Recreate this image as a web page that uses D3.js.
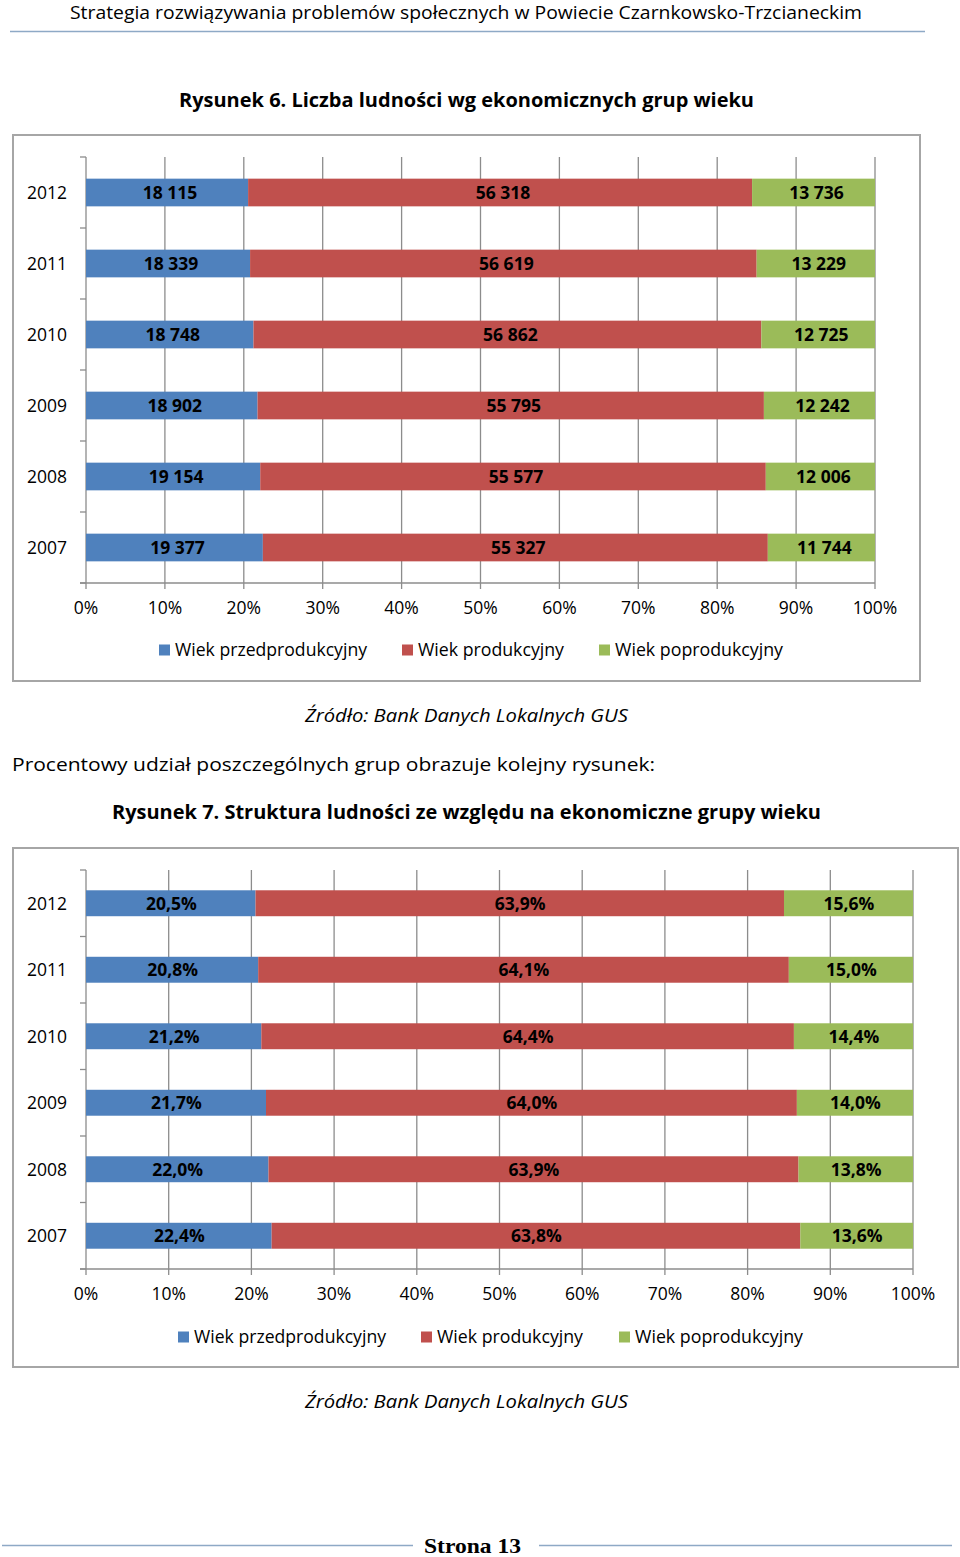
<!DOCTYPE html>
<html>
<head>
<meta charset="utf-8">
<script src="https://cdn.jsdelivr.net/npm/d3@7"></script>
<style>
  html, body { margin: 0; padding: 0; background: #fff; }
  svg { display: block; }
  text { font-family: "Open Sans", "Noto Sans", sans-serif; fill: #000; }
</style>
</head>
<body>
<script>
// ---------------- DATA ----------------
const years = ["2012", "2011", "2010", "2009", "2008", "2007"];
const seriesNames = ["Wiek przedprodukcyjny", "Wiek produkcyjny", "Wiek poprodukcyjny"];
const seriesColors = ["#4F81BD", "#C0504D", "#9BBB59"];

// Rysunek 6 – absolute numbers
const preProductive = [18115, 18339, 18748, 18902, 19154, 19377];
const productive    = [56318, 56619, 56862, 55795, 55577, 55327];
const postProductive= [13736, 13229, 12725, 12242, 12006, 11744];

// Rysunek 7 – shares (%)
const prePct  = [20.5, 20.8, 21.2, 21.7, 22.0, 22.4];
const prodPct = [63.9, 64.1, 64.4, 64.0, 63.9, 63.8];
const postPct = [15.6, 15.0, 14.4, 14.0, 13.8, 13.6];

const tickValues = [0, 0.1, 0.2, 0.3, 0.4, 0.5, 0.6, 0.7, 0.8, 0.9, 1.0];
const tickLabels = ["0%", "10%", "20%", "30%", "40%", "50%", "60%", "70%", "80%", "90%", "100%"];

// ---------------- SVG ----------------
const W = 960, H = 1557;
const svg = d3.select("body").append("svg").attr("width", W).attr("height", H);
svg.append("rect").attr("width", W).attr("height", H).attr("fill", "#fff");

function fit(sel, w) {
  sel.attr("textLength", w).attr("lengthAdjust", "spacingAndGlyphs");
  return sel;
}

// Header
fit(svg.append("text").attr("x", 70).attr("y", 19).attr("font-size", 18)
  .text("Strategia rozwiązywania problemów społecznych w Powiecie Czarnkowsko-Trzcianeckim"), 792);
svg.append("line").attr("x1", 10).attr("x2", 925).attr("y1", 31.5).attr("y2", 31.5)
  .attr("stroke", "#8EA9C6").attr("stroke-width", 1.5);

// Titles & texts
fit(svg.append("text").attr("x", 179).attr("y", 107).attr("font-size", 19).attr("font-weight", "bold")
  .text("Rysunek 6. Liczba ludności wg ekonomicznych grup wieku"), 575);
fit(svg.append("text").attr("x", 305).attr("y", 722).attr("font-size", 18).attr("font-style", "italic")
  .text("Źródło: Bank Danych Lokalnych GUS"), 323);
fit(svg.append("text").attr("x", 12).attr("y", 771).attr("font-size", 19)
  .text("Procentowy udział poszczególnych grup obrazuje kolejny rysunek:"), 643);
fit(svg.append("text").attr("x", 112).attr("y", 819).attr("font-size", 19).attr("font-weight", "bold")
  .text("Rysunek 7. Struktura ludności ze względu na ekonomiczne grupy wieku"), 709);
fit(svg.append("text").attr("x", 305).attr("y", 1408).attr("font-size", 18).attr("font-style", "italic")
  .text("Źródło: Bank Danych Lokalnych GUS"), 323);

// Footer
svg.append("line").attr("x1", 2).attr("x2", 413).attr("y1", 1545.5).attr("y2", 1545.5)
  .attr("stroke", "#8EA9C6").attr("stroke-width", 1.5);
svg.append("line").attr("x1", 539).attr("x2", 952).attr("y1", 1545.5).attr("y2", 1545.5)
  .attr("stroke", "#8EA9C6").attr("stroke-width", 1.5);
fit(svg.append("text").attr("x", 424).attr("y", 1553).attr("font-size", 21).attr("font-weight", "bold")
  .style("font-family", "'Liberation Serif', 'DejaVu Serif', serif")
  .text("Strona 13"), 97);

// ---------------- CHART ----------------
function drawChart(cfg) {
  const g = svg.append("g");
  // frame
  g.append("rect").attr("x", cfg.frame[0]).attr("y", cfg.frame[1])
    .attr("width", cfg.frame[2] - cfg.frame[0]).attr("height", cfg.frame[3] - cfg.frame[1])
    .attr("fill", "#fff").attr("stroke", "#A6A6A6").attr("stroke-width", 2);

  const x = d3.scaleLinear().domain([0, 1]).range([cfg.x0, cfg.x1]);
  const y = d3.scaleBand().domain(years).range([cfg.top, cfg.axisY])
    .paddingInner(cfg.pad).paddingOuter(cfg.pad / 2);
  const step = y.step();

  const gridColor = "#8C8C8C";
  // vertical gridlines + tick marks
  g.selectAll(".grid").data(tickValues).enter().append("line")
    .attr("x1", d => x(d)).attr("x2", d => x(d))
    .attr("y1", cfg.top).attr("y2", cfg.axisY + 6)
    .attr("stroke", gridColor).attr("stroke-width", 1.3);
  // horizontal axis line
  g.append("line").attr("x1", cfg.x0 - 6).attr("x2", cfg.x1)
    .attr("y1", cfg.axisY).attr("y2", cfg.axisY)
    .attr("stroke", gridColor).attr("stroke-width", 1.3);
  // category ticks
  d3.range(years.length + 1).forEach(i => {
    const yy = cfg.top + i * step;
    g.append("line").attr("x1", cfg.x0 - 6).attr("x2", cfg.x0)
      .attr("y1", yy).attr("y2", yy).attr("stroke", gridColor).attr("stroke-width", 1.3);
  });

  // stack
  const rows = years.map((yr, i) => {
    const vals = cfg.series.map(s => s[i]);
    const tot = d3.sum(vals);
    let acc = 0;
    return vals.map((v, k) => {
      const seg = { year: yr, k, v, label: cfg.fmt(v), x0: acc / tot, x1: (acc + v) / tot };
      acc += v;
      return seg;
    });
  });
  const segs = rows.flat();

  g.selectAll(".bar").data(segs).enter().append("rect")
    .attr("x", d => x(d.x0)).attr("width", d => x(d.x1) - x(d.x0))
    .attr("y", d => y(d.year)).attr("height", y.bandwidth())
    .attr("fill", d => seriesColors[d.k]);

  g.selectAll(".lbl").data(segs).enter().append("text")
    .attr("x", d => (x(d.x0) + x(d.x1)) / 2 + cfg.labelDx)
    .attr("y", d => y(d.year) + y.bandwidth() / 2)
    .attr("dy", "0.36em")
    .attr("text-anchor", "middle").attr("font-size", 17.5).attr("font-weight", "bold")
    .text(d => d.label);

  // category labels
  g.selectAll(".cat").data(years).enter().append("text")
    .attr("x", 67).attr("y", d => y(d) + y.bandwidth() / 2).attr("dy", "0.36em")
    .attr("text-anchor", "end").attr("font-size", 17.5).text(d => d);

  // tick labels
  g.selectAll(".tl").data(tickValues).enter().append("text")
    .attr("x", d => x(d)).attr("y", cfg.tickY).attr("dy", "0.36em")
    .attr("text-anchor", "middle").attr("font-size", 17.5)
    .text((d, i) => tickLabels[i]);

  // legend
  seriesNames.forEach((n, k) => {
    const lx = cfg.legendX[k];
    g.append("rect").attr("x", lx).attr("y", cfg.legendY - 5.5).attr("width", 11).attr("height", 11)
      .attr("fill", seriesColors[k]);
    const t = g.append("text").attr("x", lx + 16).attr("y", cfg.legendY).attr("dy", "0.36em")
      .attr("font-size", 17.5).text(n);
    fit(t, cfg.legendW[k]);
  });
}

const fmtNum = v => d3.format(",")(v).replace(/,/g, " ");
const fmtPct = v => v.toFixed(1).replace(".", ",") + "%";

drawChart({
  frame: [13, 135, 920, 681],
  x0: 86, x1: 875, top: 157, axisY: 583, pad: 0.61, labelDx: 3,
  tickY: 608, legendY: 650,
  legendX: [159, 402, 599], legendW: [192, 146, 168],
  series: [preProductive, productive, postProductive],
  fmt: fmtNum
});

drawChart({
  frame: [13, 848, 958, 1367],
  x0: 86, x1: 913, top: 870, axisY: 1269, pad: 0.61, labelDx: 0.5,
  tickY: 1294, legendY: 1337,
  legendX: [178, 421, 619], legendW: [192, 146, 168],
  series: [prePct, prodPct, postPct],
  fmt: fmtPct
});
</script>
</body>
</html>
